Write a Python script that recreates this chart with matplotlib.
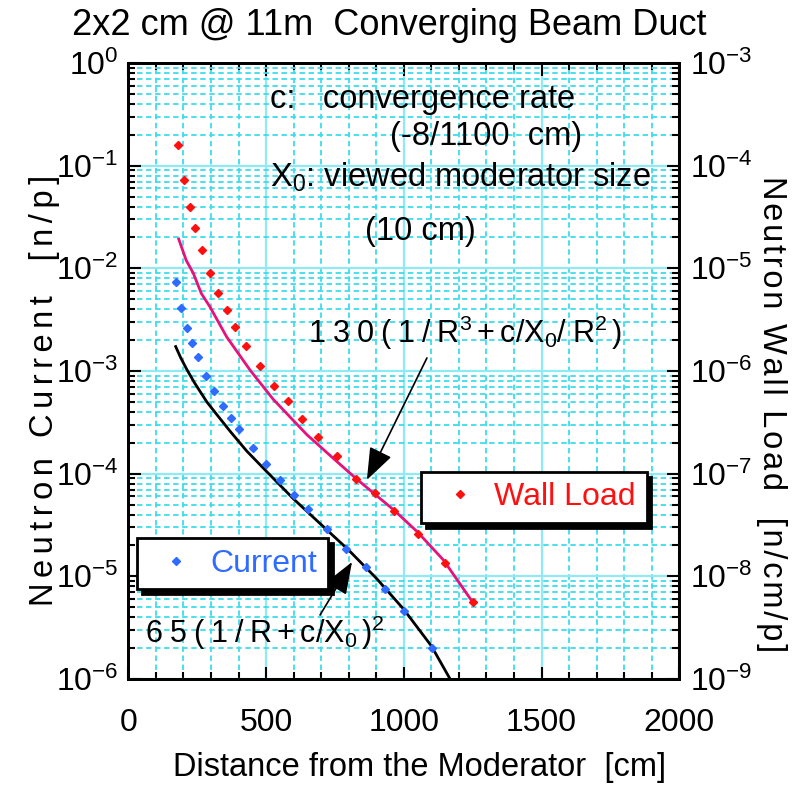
"""Neutron current and wall load along a converging beam duct."""
import matplotlib

matplotlib.use("Agg")
import matplotlib.pyplot as plt
from matplotlib.lines import Line2D
from matplotlib.ticker import LogLocator, MultipleLocator, NullFormatter

plt.rcParams["font.family"] = ["Liberation Sans", "DejaVu Sans"]
plt.rcParams["mathtext.fontset"] = "custom"
plt.rcParams["mathtext.rm"] = "Liberation Sans"
plt.rcParams["mathtext.it"] = "Liberation Sans"
plt.rcParams["mathtext.bf"] = "Liberation Sans:bold"
plt.rcParams["mathtext.default"] = "regular"
plt.rcParams["axes.unicode_minus"] = False

# Current data [n/p] vs distance [cm]
cur_x = [174, 192, 214, 233, 254, 283, 312, 344, 374, 402, 452, 501, 552,
         603, 653, 722, 791, 862, 932, 1001, 1103]
cur_y = [7.3e-3, 4.1e-3, 2.65e-3, 1.86e-3, 1.36e-3, 9.0e-4, 6.4e-4, 4.6e-4,
         3.5e-4, 2.7e-4, 1.78e-4, 1.24e-4, 8.7e-5, 6.2e-5, 4.5e-5, 2.9e-5,
         1.83e-5, 1.22e-5, 7.6e-6, 4.6e-6, 2.0e-6]

# Wall load data [n/cm/p]
wall_x = [182, 203, 224, 243, 268, 298, 327, 358, 388, 427, 477, 528, 579,
          629, 687, 756, 826, 896, 965, 1050, 1151, 1250]
wall_y = [1.58e-4, 7.25e-5, 4.0e-5, 2.45e-5, 1.51e-5, 9.0e-6, 5.7e-6,
          3.9e-6, 2.7e-6, 1.75e-6, 1.11e-6, 7.2e-7, 5.1e-7, 3.4e-7, 2.3e-7,
          1.5e-7, 8.9e-8, 6.5e-8, 4.3e-8, 2.6e-8, 1.35e-8, 5.6e-9]

# fitted curves
fit_cur_x = [172, 190, 212, 240, 285, 320, 369, 430, 502, 599, 684, 800, 900,
             999, 1100, 1168]
fit_cur_y = [1.73e-3, 1.35e-3, 1.04e-3, 7.7e-4, 5.0e-4, 3.8e-4, 2.6e-4,
             1.66e-4, 1.05e-4, 5.7e-5, 3.5e-5, 1.8e-5, 9.6e-6, 4.8e-6, 2.1e-6,
             1.0e-6]
fit_wall_x = [183, 210, 236, 265, 296, 357, 442, 526, 648, 744, 826, 965,
              1050, 1144, 1250]
fit_wall_y = [1.93e-5, 1.2e-5, 8.95e-6, 5.7e-6, 4.23e-6, 2.15e-6, 1.02e-6,
              5.3e-7, 2.4e-7, 1.41e-7, 9.0e-8, 4.4e-8, 2.7e-8, 1.44e-8,
              5.6e-9]

blue = "#2f6bff"
red = "#ff1010"
pink = "#e8107a"
W, H = 800, 792


def spaced(s, n=1):
    # the vertical labels in the original are letter-spaced
    return ("\u200a" * n).join(s)


def main():
    fig = plt.figure(figsize=(W / 100, H / 100), dpi=100)
    ax = fig.add_axes([128.3 / W, 1 - 679 / H, 551 / W, 616 / H])
    ax2 = ax.twinx()

    # left axis: current, right axis: wall load
    ax.set_xlim(0, 2000)
    ax.set_yscale("log")
    ax.set_ylim(1e-6, 1)
    ax2.set_yscale("log")
    ax2.set_ylim(1e-9, 1e-3)

    ax.xaxis.set_major_locator(MultipleLocator(500))
    ax.xaxis.set_minor_locator(MultipleLocator(100))
    for a in (ax, ax2):
        a.yaxis.set_major_locator(LogLocator(base=10, numticks=20))
        a.yaxis.set_minor_locator(LogLocator(base=10, subs=range(2, 10), numticks=20))
        a.yaxis.set_minor_formatter(NullFormatter())

    ax.set_axisbelow(True)
    ax.grid(which="major", color="#8eeaf4", lw=1.6, ls="-")
    ax.grid(which="minor", color="#3ddcec", lw=1.3, ls=(0, (3, 2)))

    ax.tick_params(which="both", direction="in", top=True, right=False,
                   labelsize=23, width=1.5)
    ax.tick_params(which="major", length=9)
    ax.tick_params(which="minor", length=5)
    ax.tick_params(axis="x", pad=21)
    ax.tick_params(axis="y", pad=7)
    ax2.tick_params(which="both", direction="in", labelsize=23, width=1.5, pad=8)
    ax2.tick_params(which="major", length=9)
    ax2.tick_params(which="minor", length=5)
    for a in (ax, ax2):
        for s in a.spines.values():
            s.set_linewidth(2)

    # curves and points
    ax.plot(fit_cur_x, fit_cur_y, color="black", lw=2)
    ax.plot(cur_x, cur_y, ls="none", marker="D", ms=4.5, color=blue)
    ax2.plot(fit_wall_x, fit_wall_y, color=pink, lw=2)
    ax2.plot(wall_x, wall_y, ls="none", marker="D", ms=4.5, color=red)

    # axis labels, placed in figure pixels to match the original layout
    ax.set_xlabel("Distance from the Moderator  [cm]", fontsize=23.5,
                  va="baseline")
    ax.xaxis.set_label_coords(420 / W, 1 - 776 / H, transform=fig.transFigure)
    ax.set_ylabel(spaced("Neutron Current  [n/p]", 2), fontsize=23.5,
                  rotation=90, va="center", ha="center")
    ax.yaxis.set_label_coords(45 / W, 1 - 390 / H, transform=fig.transFigure)
    ax2.set_ylabel(spaced("Neutron Wall Load  [n/cm/p]"), fontsize=23.5,
                   rotation=-90, va="center", ha="center")
    ax2.yaxis.set_label_coords(772 / W, 1 - 414 / H, transform=fig.transFigure)
    fig.suptitle("2x2 cm @ 11m  Converging Beam Duct", x=389 / W, y=1 - 35 / H,
                 ha="center", va="baseline", fontsize=26)

    # legends with hard shadow
    lkw = dict(loc="upper left", bbox_transform=fig.transFigure, fontsize=23,
               numpoints=1, handlelength=1.78, handletextpad=0.2,
               borderpad=0.33, borderaxespad=0, fancybox=False, framealpha=1,
               edgecolor="black",
               shadow={"ox": 3.5, "oy": -3.5, "color": "black", "alpha": 1})
    h1 = Line2D([], [], ls="none", marker="D", ms=4.5, color=blue)
    leg1 = ax.legend([h1], ["Current"], bbox_to_anchor=(136.7 / W, 1 - 538.3 / H),
                     labelcolor=blue, **lkw)
    leg1.get_frame().set_linewidth(2)
    h2 = Line2D([], [], ls="none", marker="D", ms=4.5, color=red)
    leg2 = ax2.legend([h2], ["Wall Load"], bbox_to_anchor=(420.7 / W, 1 - 471.7 / H),
                      labelcolor=red, **lkw)
    leg2.get_frame().set_linewidth(2)

    # notes
    tkw = dict(transform=ax.transAxes, ha="left", va="baseline", fontsize=23.5)
    ax.text(0.2572, 0.9264, "c:   convergence rate", **tkw)
    ax.text(0.4749, 0.8669, "(-8/1100  cm)", **tkw)
    ax.text(0.2572, 0.7992, r"X$_0$: viewed moderator size", **tkw)
    ax.text(0.4296, 0.7127, "(10 cm)", **tkw)
    fkw = dict(transform=ax.transAxes, ha="left", va="baseline", fontsize=22)
    ax.text(0.3261, 0.5455, r"$1\;3\;0\;(\;1\;/\;R^3+c/X_0/\;R^2\,)$", **fkw)
    ax.text(0.0303, 0.0584, r"$6\;5\;(\;1\;/\;R+c/X_0\,)^2$", **fkw)

    akw = dict(arrowstyle="-|>,head_length=0.8,head_width=0.3", color="black",
               lw=1.2, mutation_scale=25, shrinkA=0, shrinkB=0)
    ax.annotate("", xy=(866, 8.7e-5), xytext=(1084, 1.34e-3), arrowprops=akw)
    ax.annotate("", xy=(812, 1.38e-5), xytext=(696, 4.2e-6), arrowprops=akw)

    fig.savefig("out.png", dpi=100)


if __name__ == "__main__":
    main()
